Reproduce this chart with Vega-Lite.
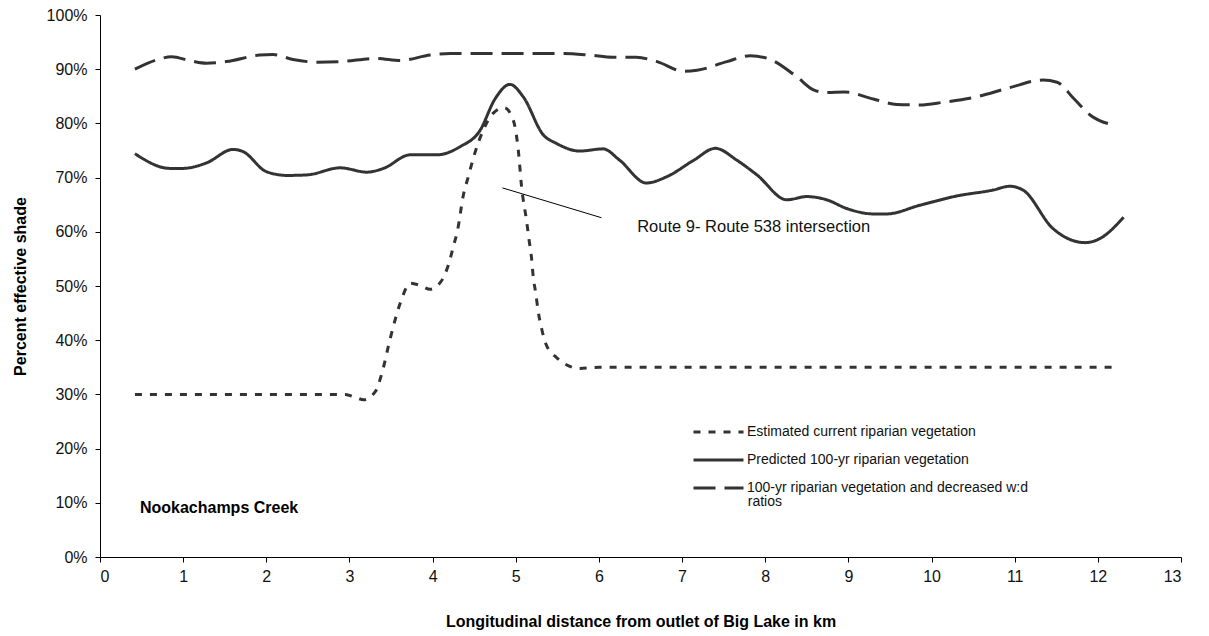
{
  "$schema": "https://vega.github.io/schema/vega-lite/v6.json",
  "width": 1081,
  "height": 542,
  "autosize": {"type": "none"},
  "padding": {"left": 100, "top": 15, "right": 28, "bottom": 79},
  "background": "white",
  "config": {
    "view": {"stroke": null},
    "font": "Liberation Sans",
    "axis": {
      "grid": false,
      "domainColor": "#000",
      "tickColor": "#000",
      "labelColor": "#111",
      "titleColor": "#000",
      "labelFont": "Liberation Sans",
      "titleFont": "Liberation Sans",
      "tickSize": 5,
      "labelFontSize": 16,
      "titleFontSize": 16,
      "titleFontWeight": "bold"
    },
    "legend": {"labelFont": "Liberation Sans"}
  },
  "datasets": {
    "lines": [
      {"series": "Estimated current riparian vegetation", "km": 0.42, "pct": 30},
      {"series": "Estimated current riparian vegetation", "km": 1.0, "pct": 30},
      {"series": "Estimated current riparian vegetation", "km": 2.0, "pct": 30},
      {"series": "Estimated current riparian vegetation", "km": 2.95, "pct": 30},
      {"series": "Estimated current riparian vegetation", "km": 3.08, "pct": 29.4},
      {"series": "Estimated current riparian vegetation", "km": 3.17, "pct": 29.0},
      {"series": "Estimated current riparian vegetation", "km": 3.31, "pct": 30.5},
      {"series": "Estimated current riparian vegetation", "km": 3.39, "pct": 33.9},
      {"series": "Estimated current riparian vegetation", "km": 3.49, "pct": 40.3},
      {"series": "Estimated current riparian vegetation", "km": 3.61, "pct": 46.8},
      {"series": "Estimated current riparian vegetation", "km": 3.73, "pct": 50.5},
      {"series": "Estimated current riparian vegetation", "km": 3.85, "pct": 50.1},
      {"series": "Estimated current riparian vegetation", "km": 3.97, "pct": 49.4},
      {"series": "Estimated current riparian vegetation", "km": 4.1, "pct": 50.8},
      {"series": "Estimated current riparian vegetation", "km": 4.19, "pct": 53.9},
      {"series": "Estimated current riparian vegetation", "km": 4.25, "pct": 57.3},
      {"series": "Estimated current riparian vegetation", "km": 4.3, "pct": 60.3},
      {"series": "Estimated current riparian vegetation", "km": 4.37, "pct": 66.8},
      {"series": "Estimated current riparian vegetation", "km": 4.43, "pct": 70.2},
      {"series": "Estimated current riparian vegetation", "km": 4.49, "pct": 73.6},
      {"series": "Estimated current riparian vegetation", "km": 4.61, "pct": 78.8},
      {"series": "Estimated current riparian vegetation", "km": 4.73, "pct": 81.9},
      {"series": "Estimated current riparian vegetation", "km": 4.86, "pct": 82.9},
      {"series": "Estimated current riparian vegetation", "km": 4.97, "pct": 80.6},
      {"series": "Estimated current riparian vegetation", "km": 5.03, "pct": 75.1},
      {"series": "Estimated current riparian vegetation", "km": 5.07, "pct": 68.3},
      {"series": "Estimated current riparian vegetation", "km": 5.13, "pct": 62.0},
      {"series": "Estimated current riparian vegetation", "km": 5.16, "pct": 58.5},
      {"series": "Estimated current riparian vegetation", "km": 5.19, "pct": 55.1},
      {"series": "Estimated current riparian vegetation", "km": 5.21, "pct": 51.7},
      {"series": "Estimated current riparian vegetation", "km": 5.24, "pct": 48.7},
      {"series": "Estimated current riparian vegetation", "km": 5.27, "pct": 45.3},
      {"series": "Estimated current riparian vegetation", "km": 5.31, "pct": 42.2},
      {"series": "Estimated current riparian vegetation", "km": 5.36, "pct": 39.4},
      {"series": "Estimated current riparian vegetation", "km": 5.49, "pct": 36.8},
      {"series": "Estimated current riparian vegetation", "km": 5.77, "pct": 34.8},
      {"series": "Estimated current riparian vegetation", "km": 6.01, "pct": 35.0},
      {"series": "Estimated current riparian vegetation", "km": 7.0, "pct": 35},
      {"series": "Estimated current riparian vegetation", "km": 8.0, "pct": 35},
      {"series": "Estimated current riparian vegetation", "km": 9.0, "pct": 35},
      {"series": "Estimated current riparian vegetation", "km": 10.0, "pct": 35},
      {"series": "Estimated current riparian vegetation", "km": 11.0, "pct": 35},
      {"series": "Estimated current riparian vegetation", "km": 12.25, "pct": 35},

      {"series": "Predicted 100-yr riparian vegetation", "km": 0.42, "pct": 74.4},
      {"series": "Predicted 100-yr riparian vegetation", "km": 0.84, "pct": 71.7},
      {"series": "Predicted 100-yr riparian vegetation", "km": 1.0, "pct": 71.7},
      {"series": "Predicted 100-yr riparian vegetation", "km": 1.28, "pct": 72.7},
      {"series": "Predicted 100-yr riparian vegetation", "km": 1.6, "pct": 75.2},
      {"series": "Predicted 100-yr riparian vegetation", "km": 1.72, "pct": 74.8},
      {"series": "Predicted 100-yr riparian vegetation", "km": 2.0, "pct": 71.1},
      {"series": "Predicted 100-yr riparian vegetation", "km": 2.25, "pct": 70.4},
      {"series": "Predicted 100-yr riparian vegetation", "km": 2.49, "pct": 70.5},
      {"series": "Predicted 100-yr riparian vegetation", "km": 2.89, "pct": 71.8},
      {"series": "Predicted 100-yr riparian vegetation", "km": 3.21, "pct": 71.0},
      {"series": "Predicted 100-yr riparian vegetation", "km": 3.41, "pct": 71.7},
      {"series": "Predicted 100-yr riparian vegetation", "km": 3.73, "pct": 74.2},
      {"series": "Predicted 100-yr riparian vegetation", "km": 4.05, "pct": 74.2},
      {"series": "Predicted 100-yr riparian vegetation", "km": 4.33, "pct": 75.7},
      {"series": "Predicted 100-yr riparian vegetation", "km": 4.57, "pct": 78.7},
      {"series": "Predicted 100-yr riparian vegetation", "km": 4.75, "pct": 84.5},
      {"series": "Predicted 100-yr riparian vegetation", "km": 4.93, "pct": 87.2},
      {"series": "Predicted 100-yr riparian vegetation", "km": 5.09, "pct": 84.9},
      {"series": "Predicted 100-yr riparian vegetation", "km": 5.33, "pct": 77.9},
      {"series": "Predicted 100-yr riparian vegetation", "km": 5.49, "pct": 76.3},
      {"series": "Predicted 100-yr riparian vegetation", "km": 5.77, "pct": 74.9},
      {"series": "Predicted 100-yr riparian vegetation", "km": 6.05, "pct": 75.3},
      {"series": "Predicted 100-yr riparian vegetation", "km": 6.25, "pct": 73.2},
      {"series": "Predicted 100-yr riparian vegetation", "km": 6.57, "pct": 69.0},
      {"series": "Predicted 100-yr riparian vegetation", "km": 6.82, "pct": 70.2},
      {"series": "Predicted 100-yr riparian vegetation", "km": 7.14, "pct": 73.2},
      {"series": "Predicted 100-yr riparian vegetation", "km": 7.4, "pct": 75.4},
      {"series": "Predicted 100-yr riparian vegetation", "km": 7.66, "pct": 73.2},
      {"series": "Predicted 100-yr riparian vegetation", "km": 7.9, "pct": 70.5},
      {"series": "Predicted 100-yr riparian vegetation", "km": 8.26, "pct": 65.9},
      {"series": "Predicted 100-yr riparian vegetation", "km": 8.5, "pct": 66.5},
      {"series": "Predicted 100-yr riparian vegetation", "km": 8.74, "pct": 65.9},
      {"series": "Predicted 100-yr riparian vegetation", "km": 8.98, "pct": 64.3},
      {"series": "Predicted 100-yr riparian vegetation", "km": 9.3, "pct": 63.3},
      {"series": "Predicted 100-yr riparian vegetation", "km": 9.46, "pct": 63.3},
      {"series": "Predicted 100-yr riparian vegetation", "km": 9.86, "pct": 64.9},
      {"series": "Predicted 100-yr riparian vegetation", "km": 10.3, "pct": 66.6},
      {"series": "Predicted 100-yr riparian vegetation", "km": 10.74, "pct": 67.7},
      {"series": "Predicted 100-yr riparian vegetation", "km": 10.94, "pct": 68.4},
      {"series": "Predicted 100-yr riparian vegetation", "km": 11.1, "pct": 67.7},
      {"series": "Predicted 100-yr riparian vegetation", "km": 11.46, "pct": 60.6},
      {"series": "Predicted 100-yr riparian vegetation", "km": 11.85, "pct": 58.0},
      {"series": "Predicted 100-yr riparian vegetation", "km": 12.03, "pct": 58.8},
      {"series": "Predicted 100-yr riparian vegetation", "km": 12.31, "pct": 62.7},

      {"series": "100-yr riparian vegetation and decreased w:d ratios", "km": 0.42, "pct": 90.0},
      {"series": "100-yr riparian vegetation and decreased w:d ratios", "km": 0.68, "pct": 91.7},
      {"series": "100-yr riparian vegetation and decreased w:d ratios", "km": 0.86, "pct": 92.3},
      {"series": "100-yr riparian vegetation and decreased w:d ratios", "km": 1.1, "pct": 91.5},
      {"series": "100-yr riparian vegetation and decreased w:d ratios", "km": 1.28, "pct": 91.1},
      {"series": "100-yr riparian vegetation and decreased w:d ratios", "km": 1.52, "pct": 91.4},
      {"series": "100-yr riparian vegetation and decreased w:d ratios", "km": 1.92, "pct": 92.6},
      {"series": "100-yr riparian vegetation and decreased w:d ratios", "km": 2.08, "pct": 92.7},
      {"series": "100-yr riparian vegetation and decreased w:d ratios", "km": 2.32, "pct": 91.8},
      {"series": "100-yr riparian vegetation and decreased w:d ratios", "km": 2.61, "pct": 91.3},
      {"series": "100-yr riparian vegetation and decreased w:d ratios", "km": 2.89, "pct": 91.4},
      {"series": "100-yr riparian vegetation and decreased w:d ratios", "km": 3.33, "pct": 92.0},
      {"series": "100-yr riparian vegetation and decreased w:d ratios", "km": 3.61, "pct": 91.6},
      {"series": "100-yr riparian vegetation and decreased w:d ratios", "km": 3.97, "pct": 92.6},
      {"series": "100-yr riparian vegetation and decreased w:d ratios", "km": 4.21, "pct": 92.9},
      {"series": "100-yr riparian vegetation and decreased w:d ratios", "km": 4.81, "pct": 92.9},
      {"series": "100-yr riparian vegetation and decreased w:d ratios", "km": 5.57, "pct": 92.9},
      {"series": "100-yr riparian vegetation and decreased w:d ratios", "km": 5.89, "pct": 92.6},
      {"series": "100-yr riparian vegetation and decreased w:d ratios", "km": 6.17, "pct": 92.2},
      {"series": "100-yr riparian vegetation and decreased w:d ratios", "km": 6.45, "pct": 92.2},
      {"series": "100-yr riparian vegetation and decreased w:d ratios", "km": 6.7, "pct": 91.4},
      {"series": "100-yr riparian vegetation and decreased w:d ratios", "km": 7.02, "pct": 89.6},
      {"series": "100-yr riparian vegetation and decreased w:d ratios", "km": 7.18, "pct": 89.8},
      {"series": "100-yr riparian vegetation and decreased w:d ratios", "km": 7.54, "pct": 91.4},
      {"series": "100-yr riparian vegetation and decreased w:d ratios", "km": 7.82, "pct": 92.5},
      {"series": "100-yr riparian vegetation and decreased w:d ratios", "km": 8.06, "pct": 91.8},
      {"series": "100-yr riparian vegetation and decreased w:d ratios", "km": 8.38, "pct": 88.6},
      {"series": "100-yr riparian vegetation and decreased w:d ratios", "km": 8.58, "pct": 86.2},
      {"series": "100-yr riparian vegetation and decreased w:d ratios", "km": 8.74, "pct": 85.7},
      {"series": "100-yr riparian vegetation and decreased w:d ratios", "km": 8.95, "pct": 85.8},
      {"series": "100-yr riparian vegetation and decreased w:d ratios", "km": 9.3, "pct": 84.5},
      {"series": "100-yr riparian vegetation and decreased w:d ratios", "km": 9.58, "pct": 83.5},
      {"series": "100-yr riparian vegetation and decreased w:d ratios", "km": 9.86, "pct": 83.4},
      {"series": "100-yr riparian vegetation and decreased w:d ratios", "km": 10.14, "pct": 83.9},
      {"series": "100-yr riparian vegetation and decreased w:d ratios", "km": 10.54, "pct": 84.9},
      {"series": "100-yr riparian vegetation and decreased w:d ratios", "km": 10.94, "pct": 86.6},
      {"series": "100-yr riparian vegetation and decreased w:d ratios", "km": 11.34, "pct": 88.0},
      {"series": "100-yr riparian vegetation and decreased w:d ratios", "km": 11.51, "pct": 87.6},
      {"series": "100-yr riparian vegetation and decreased w:d ratios", "km": 11.71, "pct": 84.6},
      {"series": "100-yr riparian vegetation and decreased w:d ratios", "km": 11.91, "pct": 81.5},
      {"series": "100-yr riparian vegetation and decreased w:d ratios", "km": 12.19, "pct": 79.7}
    ],
    "pointer": [{"km": 4.84, "pct": 68.1, "km2": 6.03, "pct2": 62.6}],
    "route": [{"km": 6.46, "pct": 60.8, "label": "Route 9- Route 538 intersection"}],
    "creek": [{"km": 0.48, "pct": 9.0, "label": "Nookachamps Creek"}],
    "wrap": [{"km": 7.79, "pct": 10.1, "label": "ratios"}]
  },
  "layer": [
    {
      "data": {"name": "lines"},
      "mark": {"type": "line", "interpolate": "monotone", "color": "#333333", "strokeWidth": 3},
      "encoding": {
        "x": {
          "field": "km", "type": "quantitative",
          "scale": {"domain": [0, 13], "nice": false, "zero": false},
          "axis": {
            "values": [0,1,2,3,4,5,6,7,8,9,10,11,12,13],
            "format": "d",
            "title": "Longitudinal distance from outlet of Big Lake in km",
            "labelPadding": 6,
            "titlePadding": 29
          }
        },
        "y": {
          "field": "pct", "type": "quantitative",
          "scale": {"domain": [0, 100], "nice": false},
          "axis": {
            "values": [0,10,20,30,40,50,60,70,80,90,100],
            "labelExpr": "datum.value + '%'",
            "title": "Percent effective shade",
            "labelPadding": 8,
            "titlePadding": 18
          }
        },
        "strokeDash": {
          "field": "series", "type": "nominal",
          "scale": {
            "domain": ["Estimated current riparian vegetation", "Predicted 100-yr riparian vegetation", "100-yr riparian vegetation and decreased w:d ratios"],
            "range": [[7, 8], [1, 0], [22, 9]]
          },
          "legend": {
            "title": null,
            "orient": "none",
            "legendX": 592,
            "legendY": 403,
            "padding": 0,
            "symbolType": "stroke",
            "symbolSize": 2500,
            "symbolStrokeWidth": 3,
            "symbolStrokeColor": "#333333",
            "labelFontSize": 14,
            "labelColor": "#111",
            "labelOffset": 2,
            "rowPadding": 0,
            "clipHeight": 28,
            "labelLimit": 400,
            "labelExpr": "datum.label == '100-yr riparian vegetation and decreased w:d ratios' ? '100-yr riparian vegetation and decreased w:d' : datum.label"
          }
        }
      }
    },
    {
      "data": {"name": "pointer"},
      "mark": {"type": "rule", "color": "#000", "strokeWidth": 1},
      "encoding": {
        "x": {"field": "km", "type": "quantitative"},
        "y": {"field": "pct", "type": "quantitative"},
        "x2": {"field": "km2"},
        "y2": {"field": "pct2"}
      }
    },
    {
      "data": {"name": "route"},
      "mark": {"type": "text", "align": "left", "baseline": "middle", "fontSize": 16.5, "color": "#111", "font": "Liberation Sans"},
      "encoding": {
        "x": {"field": "km", "type": "quantitative"},
        "y": {"field": "pct", "type": "quantitative"},
        "text": {"field": "label"}
      }
    },
    {
      "data": {"name": "wrap"},
      "mark": {"type": "text", "align": "left", "baseline": "middle", "fontSize": 14, "color": "#111", "font": "Liberation Sans"},
      "encoding": {
        "x": {"field": "km", "type": "quantitative"},
        "y": {"field": "pct", "type": "quantitative"},
        "text": {"field": "label"}
      }
    },
    {
      "data": {"name": "creek"},
      "mark": {"type": "text", "align": "left", "baseline": "middle", "fontSize": 16, "fontWeight": "bold", "color": "#000", "font": "Liberation Sans"},
      "encoding": {
        "x": {"field": "km", "type": "quantitative"},
        "y": {"field": "pct", "type": "quantitative"},
        "text": {"field": "label"}
      }
    }
  ]
}
